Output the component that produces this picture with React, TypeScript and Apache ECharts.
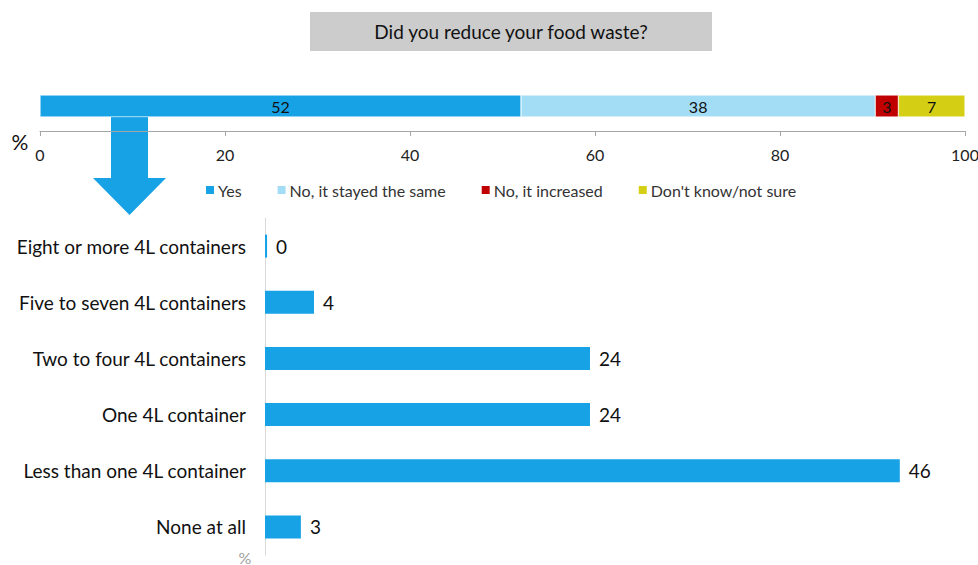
import React, { useEffect, useRef } from "react";
import * as echarts from "echarts";

const FONT = "Lato";
const titleText = "Did you reduce your food waste?";
const topCategory = ["All"];
const seriesNames = ["Yes", "No, it stayed the same", "No, it increased", "Don't know/not sure"];
const seriesValues = [52.0, 38.3, 2.5, 7.2];
const seriesColors = ["#17a2e6", "#a3dcf5", "#c00000", "#d4cf14"];
const topTicks = [0, 20, 40, 60, 80, 100];

const amountCategories = [
  "Eight or more 4L containers",
  "Five to seven 4L containers",
  "Two to four 4L containers",
  "One 4L container",
  "Less than one 4L container",
  "None at all",
];
const amountValues = [0.15, 3.55, 23.55, 23.55, 46.0, 2.6];

export default function App() {
  const ref = useRef<HTMLDivElement>(null);
  useEffect(() => {
    if (!ref.current) return;
    const chart = echarts.init(ref.current, undefined, { renderer: "svg" });
    const topSeries = seriesNames.map((name, i) => ({
      name,
      type: "bar",
      stack: "top",
      xAxisIndex: 0,
      yAxisIndex: 0,
      barWidth: 22,
      data: [seriesValues[i]],
      itemStyle: { color: seriesColors[i], borderColor: "#ffffff", borderWidth: 0.5 },
      label: {
        show: true,
        position: "inside",
        color: "#111",
        fontSize: 16,
        fontFamily: FONT,
        formatter: (p: any) => String(Math.round(p.value)),
      },
    }));
    chart.setOption({
      animation: false,
      backgroundColor: "#ffffff",
      textStyle: { fontFamily: FONT },
      legend: {
        data: seriesNames,
        left: 199,
        top: 177,
        icon: "rect",
        itemWidth: 10,
        itemHeight: 10,
        itemGap: 34,
        textStyle: { fontSize: 16, color: "#333", fontFamily: FONT, padding: [0, 0, 0, -2] },
      },
      grid: [
        { left: 40, right: 13, top: 81, height: 50, outerBoundsMode: "none", containLabel: false },
        { left: 265, right: 23, top: 218, height: 337, outerBoundsMode: "none", containLabel: false },
      ],
      xAxis: [
        {
          type: "value",
          gridIndex: 0,
          min: 0,
          max: 100,
          interval: 20,
          axisLine: { show: true, lineStyle: { color: "#a6a6a6" } },
          axisTick: { show: true, length: 5, lineStyle: { color: "#a6a6a6" } },
          splitLine: { show: false },
          axisLabel: {
            color: "#222",
            fontSize: 16,
            margin: 15,
            fontFamily: FONT,
            formatter: (v: number) => (topTicks.includes(v) ? String(v) : ""),
          },
        },
        {
          type: "value",
          gridIndex: 1,
          min: 0,
          max: 50,
          show: false,
          splitLine: { show: false },
        },
      ],
      yAxis: [
        { type: "category", gridIndex: 0, data: topCategory, show: false },
        {
          type: "category",
          gridIndex: 1,
          data: amountCategories,
          inverse: true,
          axisLine: { show: true, lineStyle: { color: "#d9d9d9" } },
          axisTick: { show: false },
          axisLabel: { color: "#111", fontSize: 19, margin: 19, fontFamily: FONT },
        },
      ],
      series: [
        ...topSeries,
        {
          name: "Amount",
          type: "bar",
          xAxisIndex: 1,
          yAxisIndex: 1,
          barWidth: 23,
          data: amountValues,
          itemStyle: { color: "#17a2e6" },
          label: {
            show: true,
            position: "right",
            distance: 9,
            color: "#111",
            fontSize: 19,
            fontFamily: FONT,
            formatter: (p: any) => String(Math.round(p.value)),
          },
        },
      ],
      graphic: [
        {
          type: "rect",
          shape: { x: 310, y: 12, width: 402, height: 39 },
          style: { fill: "#cccccc" },
        },
        {
          type: "text",
          x: 511,
          y: 31,
          style: {
            text: titleText,
            fill: "#111",
            font: `19px ${FONT}`,
            align: "center",
            verticalAlign: "middle",
          },
        },
        {
          type: "polygon",
          shape: {
            points: [
              [111, 117],
              [148, 117],
              [148, 178],
              [166, 178],
              [129.5, 215],
              [93, 178],
              [111, 178],
            ],
          },
          style: { fill: "#17a2e6" },
        },
        {
          type: "text",
          x: 20,
          y: 141,
          style: { text: "%", fill: "#111", font: `21px ${FONT}`, align: "center", verticalAlign: "middle" },
        },
        {
          type: "text",
          x: 245,
          y: 557,
          style: { text: "%", fill: "#a0a0a0", font: `16px ${FONT}`, align: "center", verticalAlign: "middle" },
        },
      ],
    });
    return () => chart.dispose();
  }, []);
  return (
    <div
      ref={ref}
      style={{ position: "absolute", left: 0, top: 0, width: 978, height: 565 }}
    />
  );
}
